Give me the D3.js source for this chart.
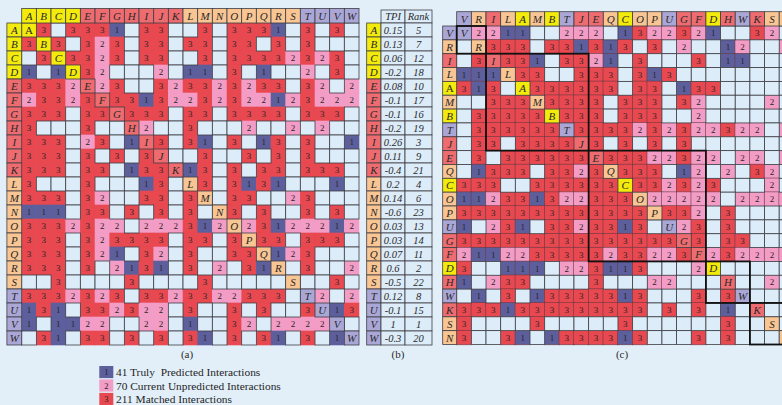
<!DOCTYPE html>
<html><head><meta charset="utf-8">
<script src="https://cdn.jsdelivr.net/npm/d3@7"></script>
<style>
html,body{margin:0;padding:0;background:#e2eff9;}
svg{display:block;font-family:"Liberation Serif","Times New Roman",serif;}
</style></head><body>
<svg id="chart" width="782" height="405"></svg>
<script>
// Protein letters and their family group (0..3)
const letters = "ABCDEFGHIJKLMNOPQRSTUVW".split("");
const letterGroup = [0,0,0,0,1,1,1,1,1,1,1,2,2,2,2,2,2,2,2,3,3,3,3];

// Interaction matrix in alphabetical order ('.' none, 'x' self, 1/2/3 class)
const matrixA = [
  "x3.3331.33..3.3331.3.3.",
  "3x3.323.33.33.33.3.3...",
  ".3x3323.33..3.33332323.",
  "1.1x32...2.11.3.1..2.3.",
  "3332x23..323323233.32.2",
  "23323x33132232322123222",
  "333.33x333.33.3333.333.",
  "3...3..x2..3...2..2.2..",
  "333.23.1x3.31.3.13.3..1",
  "333.3.3.3x..3..3.3.3...",
  "333.33.133x13.3.33.333.",
  "3...3...13.x3.3131...1.",
  "333.32..33.3x.33..23...",
  "111.33.3.3.3.x3.3..3.3.",
  "3332322.222312x23122212",
  "333.323333.33.3x33.333.",
  "333.321.32.3..33x123...",
  "333.3.2131.3.2.31x.3..2",
  "..3....3....3.....x..3.",
  "3332323.3323322333.x2.2",
  "131.332322.3..3.3..3x13",
  "1.1122..22.1..32.2222x.",
  ".31.33.3.3.31.3.31.3.1x"
];

// Clustered ordering and its matrix
const orderC = "VRILAMBTJEQCOPUGFDHWKSN".split("");
const matrixC = [
  "x2211..222.1322321..32.",
  ".x333.331313.3.2..12..2",
  ".3x331.3321.3...3.11...",
  "111x33..333.313........",
  "313.x333333.33.133.....",
  "..333x3333.333.32....2.",
  ".33333x333.333..2......",
  ".333333x3333232322322.2",
  ".33.3333x3.3.3.3.......",
  ".3.333333x33322322.22.2",
  ".1333.3323x333.12.2.32.",
  "333..333333x332323...2.",
  "112331322333x22222.2222",
  "3333333333333x332.3....",
  "1.231.3323313.x23.3....",
  "333333333333333x3.33...",
  "2112233333233223x232222",
  "3..111.223113...2x.....",
  "1.233....3...22...x..2.",
  ".1.3.13333313...3.3x...",
  "3331333333333.3.3.1.x..",
  "3....3.....3......3..x.",
  "3..31.1333313...3.3...x"
];
const clustersC = [["V","R"],["I","J"],["E","F"],["D","W"],["K","N"]];

// Table (b)
const tpi  = ["0.15","0.13","0.06","-0.2","0.08","-0.1","-0.1","-0.2","0.26","0.11","-0.4","0.2","0.14","-0.6","0.03","0.03","0.07","0.6","-0.5","0.12","-0.1","1","-0.3"];
const rank = [5,7,12,18,10,17,16,19,3,9,21,4,6,23,13,14,11,2,22,8,15,1,20];

// Legend
const legendClasses = [1,2,3];
const legendCounts = [41,70,211];
const legendNames = ["Truly  Predicted Interactions","Current Unpredicted Interactions","Matched Interactions"];

const W = 782;
const groupColor = ["#f3eb0c","#ee6c70","#f9c592","#aaa7d7"];
const classColor = {1:"#5d5f9d", 2:"#f39cc5", 3:"#e8484f"};
const emptyColor = "#dcecf9";
const gridColor = "#3e3e44";
const grp = l => letterGroup[letters.indexOf(l)];

const svg = d3.select("#chart");

function drawMatrix(order, rows, opt) {
  const g = svg.append("g");
  const x = d3.scaleBand().domain(order).range(opt.xr);
  const y = d3.scaleBand().domain(order).range(opt.yr);
  const bw = x.bandwidth(), bh = y.bandwidth();
  const inView = l => x(l) + bw / 2 < W;   // label only columns whose centre is on the page
  const cells = [];
  rows.forEach((s, i) => s.split("").forEach((ch, j) =>
    cells.push({r: order[i], c: order[j], v: ch})));
  const colored = cells.filter(d => "123".includes(d.v));
  const empty = cells.filter(d => d.v === ".");
  const diag = cells.filter(d => d.v === "x");

  g.selectAll(".col").data(colored).join("rect")
    .attr("x", d => x(d.c) - 0.3).attr("y", d => y(d.r) - 0.3)
    .attr("width", bw + 0.6).attr("height", bh + 0.6)
    .attr("fill", d => classColor[d.v])
    .attr("stroke", opt.coloredStroke || "none").attr("stroke-width", 0.6);
  g.selectAll(".emp").data(empty).join("rect")
    .attr("x", d => x(d.c)).attr("y", d => y(d.r))
    .attr("width", bw).attr("height", bh)
    .attr("fill", emptyColor).attr("stroke", gridColor).attr("stroke-width", 0.8);
  g.selectAll(".dg").data(diag).join("rect")
    .attr("x", d => x(d.c)).attr("y", d => y(d.r))
    .attr("width", bw).attr("height", bh)
    .attr("fill", d => groupColor[grp(d.r)]).attr("stroke", gridColor).attr("stroke-width", 0.8);

  // header row and row labels
  g.selectAll(".hd").data(order).join("rect")
    .attr("x", d => x(d)).attr("y", opt.headY).attr("width", bw).attr("height", opt.yr[0] - opt.headY)
    .attr("fill", d => groupColor[grp(d)]).attr("stroke", gridColor).attr("stroke-width", 0.8);
  g.selectAll(".rl").data(order).join("rect")
    .attr("x", opt.labX).attr("y", d => y(d)).attr("width", opt.xr[0] - opt.labX).attr("height", bh)
    .attr("fill", d => groupColor[grp(d)]).attr("stroke", gridColor).attr("stroke-width", 0.8);

  const letterText = (sel) => sel.attr("text-anchor", "middle").attr("font-size", 11)
    .attr("fill", "#2a2a2a").text(d => d);
  g.selectAll(".ht").data(order.filter(inView)).join("text")
    .attr("x", d => x(d) + bw / 2).attr("y", opt.headY + (opt.yr[0] - opt.headY) / 2 + 4)
    .attr("font-style", "italic").call(letterText);
  g.selectAll(".rt").data(order).join("text")
    .attr("x", (opt.labX + opt.xr[0]) / 2).attr("y", d => y(d) + bh / 2 + 4)
    .attr("font-style", d => d === opt.uprightLabel ? "normal" : "italic").call(letterText);
  g.selectAll(".dt").data(diag.filter(d => inView(d.c))).join("text")
    .attr("x", d => x(d.c) + bw / 2).attr("y", d => y(d.r) + bh / 2 + 4)
    .attr("text-anchor", "middle").attr("font-size", 11).attr("fill", "#2a2a2a")
    .attr("font-style", d => d.r === opt.uprightDiag ? "normal" : "italic")
    .text(d => d.r);
  g.selectAll(".vt").data(colored.filter(d => inView(d.c))).join("text")
    .attr("x", d => x(d.c) + bw / 2).attr("y", d => y(d.r) + bh / 2 + 3.2)
    .attr("text-anchor", "middle").attr("font-size", 9).attr("fill", "#262626")
    .text(d => d.v);
  return {g, x, y, bw, bh};
}

// (a)
drawMatrix(letters, matrixA, {xr: [21.7, 359], yr: [23, 345], headY: 8.5, labX: 6.9, uprightDiag: "A"});

// (c)
const c = drawMatrix(orderC, matrixC, {xr: [456.7, 456.7 + 23 * 14.66], yr: [26, 344.5], headY: 11.7, labX: 442.7,
  coloredStroke: "#6a3a44", uprightLabel: "A"});
c.g.selectAll(".cl").data(clustersC).join("rect")
  .attr("x", d => c.x(d[0])).attr("y", d => c.y(d[0]))
  .attr("width", d => c.x(d[1]) + c.bw - c.x(d[0]))
  .attr("height", d => c.y(d[1]) + c.bh - c.y(d[0]))
  .attr("fill", "none").attr("stroke", "#111").attr("stroke-width", 1.8);

// (b) table
const tb = svg.append("g");
const ty = d3.scaleBand().domain(letters).range([23, 345]);
const tcols = [{x0: 381, x1: 405, key: "TPI"}, {x0: 405, x1: 432, key: "Rank"}];
tb.selectAll(".lab").data(letters).join("rect")
  .attr("x", 366.7).attr("y", d => ty(d)).attr("width", 381 - 366.7).attr("height", ty.bandwidth())
  .attr("fill", d => groupColor[grp(d)]).attr("stroke", gridColor).attr("stroke-width", 0.8);
tb.selectAll(".labt").data(letters).join("text")
  .attr("x", 373.8).attr("y", d => ty(d) + ty.bandwidth() / 2 + 4)
  .attr("text-anchor", "middle").attr("font-size", 11).attr("font-style", "italic").attr("fill", "#2a2a2a")
  .text(d => d);
tcols.forEach((col, k) => {
  const vals = k === 0 ? tpi : rank;
  tb.append("rect").attr("x", col.x0).attr("y", 10).attr("width", col.x1 - col.x0).attr("height", 13)
    .attr("fill", emptyColor).attr("stroke", gridColor).attr("stroke-width", 0.8);
  tb.append("text").attr("x", (col.x0 + col.x1) / 2).attr("y", 20)
    .attr("text-anchor", "middle").attr("font-size", 10.5).attr("font-style", "italic").attr("fill", "#2a2a2a")
    .text(col.key);
  tb.selectAll(".c" + k).data(letters).join("rect")
    .attr("x", col.x0).attr("y", d => ty(d)).attr("width", col.x1 - col.x0).attr("height", ty.bandwidth())
    .attr("fill", emptyColor).attr("stroke", gridColor).attr("stroke-width", 0.8);
  tb.selectAll(".t" + k).data(letters).join("text")
    .attr("x", (col.x0 + col.x1) / 2).attr("y", d => ty(d) + ty.bandwidth() / 2 + 4)
    .attr("text-anchor", "middle").attr("font-size", 10.5).attr("font-style", "italic").attr("fill", "#2a2a2a")
    .text((d, i) => vals[i]);
});

// panel captions
svg.selectAll(".cap").data([["(a)", 187], ["(b)", 398], ["(c)", 622]]).join("text")
  .attr("x", d => d[1]).attr("y", 358).attr("text-anchor", "middle")
  .attr("font-size", 11).attr("fill", "#2a2a2a").text(d => d[0]);

// legend
const lg = svg.append("g");
const ly = d3.scaleBand().domain(legendClasses).range([366, 405]).paddingInner(0.1);
lg.selectAll("rect").data(legendClasses).join("rect")
  .attr("x", 99.3).attr("y", d => ly(d)).attr("width", 14).attr("height", ly.bandwidth())
  .attr("fill", d => classColor[d]);
lg.selectAll(".n").data(legendClasses).join("text")
  .attr("x", 106.3).attr("y", d => ly(d) + ly.bandwidth() / 2 + 3)
  .attr("text-anchor", "middle").attr("font-size", 8.5).attr("fill", "#262626").text(d => d);
lg.selectAll(".l").data(legendClasses).join("text")
  .attr("x", 116).attr("y", d => ly(d) + ly.bandwidth() / 2 + 4.2)
  .attr("font-size", 11.4).attr("fill", "#1e1e1e").style("white-space", "pre")
  .text((d, i) => legendCounts[i] + " " + legendNames[i]);
</script>
</body></html>
